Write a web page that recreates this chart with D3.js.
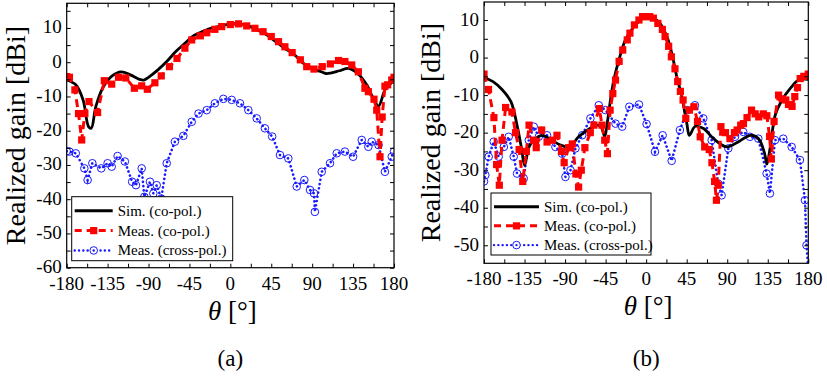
<!DOCTYPE html>
<html><head><meta charset="utf-8">
<script src="https://cdn.jsdelivr.net/npm/d3@7"></script>
<style>body{margin:0;background:#fff}svg{display:block}</style>
</head><body>
<svg id="c" width="827" height="383" font-family="'Liberation Serif', 'Times New Roman', Times, serif"></svg>
<script>
// ---------- data ----------
const xTicks = [-180,-135,-90,-45,0,45,90,135,180];
const yTicksA = [-60,-50,-40,-30,-20,-10,0,10];
const yTicksB = [-50,-40,-30,-20,-10,0,10];
const legendLabels = ["Sim. (co-pol.)","Meas. (co-pol.)","Meas. (cross-pol.)"];

// panel (a)
const simAngA = [-180,-170,-162,-156,-153,-148,-140,-130,-120,-110,-100,-95,-90,-80,-70,-60,-50,-40,-30,-20,-10,0,10,20,30,40,50,60,70,80,90,100,105,110,120,130,140,150,158,163,170,175,180];
const simA    = [-5.2,-6.6,-11,-18.8,-19.3,-13,-7.3,-4,-2.8,-3.7,-5,-5.2,-4.4,-2.3,0.2,3.1,5.5,7.8,9,10,10.6,11.2,11.2,10.6,9.4,8,6,4,2.3,-0.3,-1.8,-2.8,-3.3,-3.2,-2.5,-1.8,-3.3,-6.6,-11,-12.8,-8.1,-6.6,-5.4];
const measCoAngA = [-180,-177,-171,-167,-163.5,-160,-155.5,-146,-138.6,-130.5,-123,-115,-105.6,-97.5,-91.3,-83,-76,-67,-58.7,-50,-42.5,-33,-26,-17,-9.5,0,9,18,27,36,45,53,60,68,77,84,92,101,110,119,126,133.5,140.8,148,151.8,158,161,164.6,167,170,173,177.5,180];
const measCoA    = [-4.2,-4.4,-8.1,-15,-22.7,-15,-11.5,-14.7,-5.4,-6.4,-4.4,-4.6,-7.6,-6.9,-7.9,-6,-4,-1.3,1.1,4.1,6.5,7.7,8.6,9.6,10.4,11,11.2,10.6,9.9,8.9,7.5,6,4.5,2.8,0.7,-1.3,-2,-1.3,-0.5,0.5,0.2,-0.8,-2.8,-7.6,-8.6,-10.8,-14,-27.6,-16,-7,-6.6,-5.2,-4.4];
const crossAngA = [-180,-177,-170,-160.6,-157,-151.8,-142,-135,-130.5,-124,-116,-108,-103.8,-97.5,-94.6,-88.4,-84.7,-81,-76,-70,-61,-51.7,-42.5,-35,-26,-17,-7.7,1.5,10.6,19.8,29,38,46,54.6,63.8,73,81.4,87.6,92,93,100.5,109.6,117,126,135,144.5,151.8,155.5,163,170,177.5,180];
const crossA    = [-26,-26.1,-26.6,-31,-34.4,-29.5,-31,-29.5,-30.5,-27.4,-29,-34.9,-35.9,-31,-39.3,-34.9,-38.3,-35.9,-39.8,-29.5,-23.2,-21.5,-17.4,-15,-14,-12,-10.7,-11,-12,-14,-16.4,-19.3,-21.7,-27.1,-28.1,-36.3,-34.4,-37.3,-38.3,-43.7,-32,-29.5,-26.6,-26.1,-27.6,-22.7,-24.7,-23.2,-24.2,-32,-27.6,-26.1];

// panel (b)
const simAngB = [-180,-170,-160,-150,-143,-138,-135,-130,-125,-115,-105,-95,-85,-75,-65,-55,-50,-46,-43.3,-39.6,-35.9,-30.3,-23,-13.7,-4.4,0,5,13.7,23,28.5,34,39.6,45.2,48,54.5,63.7,74.8,89.6,102.6,115.6,124.8,131.5,134,137.8,143.3,150.8,160,169.3,180];
const simB    = [-5.3,-6.4,-8.5,-11.8,-18.4,-24.7,-28.7,-23.8,-22,-20.7,-22,-23.3,-23.8,-21.1,-19.3,-18,-18.5,-21,-17.6,-11.3,-6,-0.7,4.7,8.2,10.4,10.9,10.7,9.6,5.6,1.1,-5.1,-10.4,-17.6,-20.7,-18.3,-18.9,-21.6,-23.8,-22.4,-20.7,-21.6,-25.6,-28.4,-23.8,-15.3,-11.3,-8.2,-6,-5.8];
const measCoAngB = [-180,-175,-169,-166,-163,-160,-156,-149,-145,-141,-137,-133,-130,-125,-122,-116,-110,-104,-99,-94,-91,-86,-82,-78,-75,-72,-68,-62,-58,-52,-49,-46,-43,-40,-37,-34,-30,-26,-21,-18,-13,-8,-4,0,4,8,13,18,21,25,28,32,35,38,41,44,48,53,57,60,65,70,73,76,78,80,83,88,93,98,101,105,108,112,117,121,125,130,134,137,139,142,147,151,155,158,162,165,168,171,175,180];
const measCoB    = [-4.4,-8.5,-16,-28.5,-34,-22,-13.3,-14.5,-20,-24.5,-33,-25,-18,-22,-24,-19.3,-22.5,-22,-20.7,-25,-28,-24,-23,-31,-34.5,-30,-24,-20,-18,-13.6,-18,-22,-25.6,-14,-9.6,-6,-1,2,4.7,6.5,8.7,10,10.9,10.9,10.9,10.5,9.1,7.5,5.6,3,0.2,-3,-6.4,-9,-11.3,-16.2,-14,-13.1,-17,-21.1,-23.8,-24.5,-28,-33,-38,-34,-18.4,-20,-21.6,-20,-19.3,-18,-17.6,-16,-14,-15,-15.8,-15,-15.5,-21,-27,-17,-10,-11,-11.3,-12.5,-13,-10.4,-8,-5.6,-5,-4.4];
const crossAngB = [-180,-178.5,-174.8,-169.2,-163.7,-158,-152.6,-147,-143.3,-135.9,-130.3,-124.8,-119.2,-110,-100.7,-93.3,-89.6,-84,-78.5,-71,-61.9,-52.6,-45.2,-34,-26.6,-18.7,-8,0.5,9.8,18.3,28.3,37.5,45.7,54.2,63.4,72.7,80,83.8,91.2,98.6,107.8,115.2,124.5,133.7,137.4,143,152.2,161.5,170.7,176.3,178,180];
const crossB    = [-33,-31.3,-26.4,-22.4,-26.4,-23.8,-21.1,-26.4,-30.9,-32.2,-22,-18.4,-21.1,-20.7,-23.8,-25.6,-31.8,-30,-24.2,-20.7,-16.2,-12.7,-14,-17.6,-18.4,-13.1,-12.5,-17.7,-25.1,-20.7,-27.5,-19.3,-14,-12.7,-16.2,-22,-33.6,-36.7,-24.2,-21.1,-19.8,-21.1,-21.6,-30.9,-36.2,-22,-21.6,-23.8,-27.3,-38,-50,-56];

// ---------- drawing ----------
const svg = d3.select("#c");
const red = "#ff0000", blue = "#1a1aff";
const FONT = "'Liberation Serif', 'Times New Roman', Times, serif";

function zip(a, b){ return a.map((v,i)=>[v,b[i]]); }

function panel(o){
  const g = svg.append("g").attr("font-family",FONT);
  const x = d3.scaleLinear().domain([-180,180]).range([o.x0,o.x1]);
  const y = d3.scaleLinear().domain(o.yDom).range([o.y1,o.y0]);
  const cid = "clip"+o.id;
  g.append("clipPath").attr("id",cid).append("rect")
    .attr("x",o.x0).attr("y",o.y0).attr("width",o.x1-o.x0).attr("height",o.y1-o.y0);
  const plot = g.append("g").attr("clip-path",`url(#${cid})`);

  const lineC = d3.line().x(d=>x(d[0])).y(d=>y(d[1])).curve(d3.curveCatmullRom);
  const lineL = d3.line().x(d=>x(d[0])).y(d=>y(d[1]));

  const cross = zip(o.crossAng,o.cross);
  const meas = zip(o.measAng,o.meas);
  const sim = zip(o.simAng,o.sim);

  plot.append("path").datum(cross).attr("d",lineL).attr("fill","none")
    .attr("stroke",blue).attr("stroke-width",2.6).attr("stroke-dasharray","0.1,4.2").attr("stroke-linecap","round");
  plot.selectAll(".cm").data(cross).join("circle").attr("cx",d=>x(d[0])).attr("cy",d=>y(d[1]))
    .attr("r",3.8).attr("fill","none").attr("stroke",blue).attr("stroke-width",1);
  plot.append("path").datum(sim).attr("d",lineC).attr("fill","none")
    .attr("stroke","#000").attr("stroke-width",2.8);
  plot.append("path").datum(meas).attr("d",lineL).attr("fill","none")
    .attr("stroke",red).attr("stroke-width",3).attr("stroke-dasharray","8,5");
  plot.selectAll(".sm").data(meas).join("rect").attr("x",d=>x(d[0])-3.6).attr("y",d=>y(d[1])-3.6)
    .attr("width",7.2).attr("height",7.2).attr("fill",red);

  const minorX = d3.range(-180,180.1,22.5);
  const minorY = d3.range(o.yMinorStart,o.yDom[1],5);
  g.append("g").attr("transform",`translate(0,${o.y1})`)
    .call(d3.axisBottom(x).tickValues(minorX).tickSize(-4).tickFormat(""));
  g.append("g").attr("transform",`translate(0,${o.y0})`)
    .call(d3.axisTop(x).tickValues(minorX).tickSize(-4).tickFormat(""));
  g.append("g").attr("transform",`translate(${o.x0},0)`)
    .call(d3.axisLeft(y).tickValues(minorY).tickSize(-4).tickFormat(""));
  g.append("g").attr("transform",`translate(${o.x1},0)`)
    .call(d3.axisRight(y).tickValues(minorY).tickSize(-4).tickFormat(""));
  g.selectAll(".domain").remove();
  g.selectAll(".tick line").attr("stroke","#000").attr("stroke-width",1);

  g.append("rect").attr("x",o.x0).attr("y",o.y0).attr("width",o.x1-o.x0).attr("height",o.y1-o.y0)
    .attr("fill","none").attr("stroke","#000").attr("stroke-width",1.2);

  g.selectAll(".xl").data(xTicks).join("text").attr("x",d=>x(d)).attr("y",o.y1+22)
    .attr("text-anchor","middle").attr("font-size",19).text(d=>d);
  g.selectAll(".yl").data(o.yTicks).join("text").attr("x",o.x0-5).attr("y",d=>y(d)+5.5)
    .attr("text-anchor","end").attr("font-size",19).text(d=>d);

  const cx = (o.x0+o.x1)/2;
  const xt = g.append("text").attr("x",cx+2).attr("y",o.y1+52).attr("text-anchor","middle").attr("font-size",27);
  xt.append("tspan").attr("font-style","italic").text("θ");
  xt.append("tspan").text(" [°]");
  g.append("text").attr("transform",`translate(${o.yTitleX},${(o.y0+o.y1)/2}) rotate(-90)`)
    .attr("text-anchor","middle").attr("font-size",28).text("Realized gain [dBi]");
  g.append("text").attr("x",cx).attr("y",o.capY).attr("text-anchor","middle").attr("font-size",23).text(o.caption);

  const L = o.leg;
  g.append("rect").attr("x",L.x).attr("y",L.y).attr("width",L.w).attr("height",L.h)
    .attr("fill","#fff").attr("stroke","#000").attr("stroke-width",1);
  const rows = [L.y+L.h*0.22, L.y+L.h*0.53, L.y+L.h*0.84];
  const sx0 = L.x+3, sx1 = L.x+L.sw, sxm = (sx0+sx1)/2;
  g.append("line").attr("x1",sx0).attr("x2",sx1).attr("y1",rows[0]).attr("y2",rows[0]).attr("stroke","#000").attr("stroke-width",3);
  g.append("line").attr("x1",sx0).attr("x2",sx1).attr("y1",rows[1]).attr("y2",rows[1]).attr("stroke",red).attr("stroke-width",3).attr("stroke-dasharray","7,5");
  g.append("rect").attr("x",sxm-3.6).attr("y",rows[1]-3.6).attr("width",7.2).attr("height",7.2).attr("fill",red);
  g.append("line").attr("x1",sx0).attr("x2",sx1).attr("y1",rows[2]).attr("y2",rows[2]).attr("stroke",blue).attr("stroke-width",2.4).attr("stroke-dasharray","0.1,4.2").attr("stroke-linecap","round");
  g.append("circle").attr("cx",sxm).attr("cy",rows[2]).attr("r",3.8).attr("fill","#fff").attr("stroke",blue).attr("stroke-width",1);
  g.append("circle").attr("cx",sxm).attr("cy",rows[2]).attr("r",1.2).attr("fill",blue);
  g.selectAll(".lt").data(legendLabels).join("text").attr("x",sx1+5).attr("y",(d,i)=>rows[i]+5)
    .attr("font-size",15).text(d=>d);
}

panel({id:"a", x0:66.7, x1:394, y0:3.3, y1:267.7, yDom:[-60,17.2], yTicks:yTicksA, yMinorStart:-60,
  simAng:simAngA, sim:simA, measAng:measCoAngA, meas:measCoA, crossAng:crossAngA, cross:crossA,
  yTitleX:25, capY:366, caption:"(a)", leg:{x:71.7,y:196.7,w:161,h:64,sw:41}});
panel({id:"b", x0:484, x1:808.3, y0:2, y1:263.3, yDom:[-54.8,14.8], yTicks:yTicksB, yMinorStart:-50,
  simAng:simAngB, sim:simB, measAng:measCoAngB, meas:measCoB, crossAng:crossAngB, cross:crossB,
  yTitleX:440, capY:366, caption:"(b)", leg:{x:491,y:193,w:160,h:62,sw:48}});
</script>
</body></html>
